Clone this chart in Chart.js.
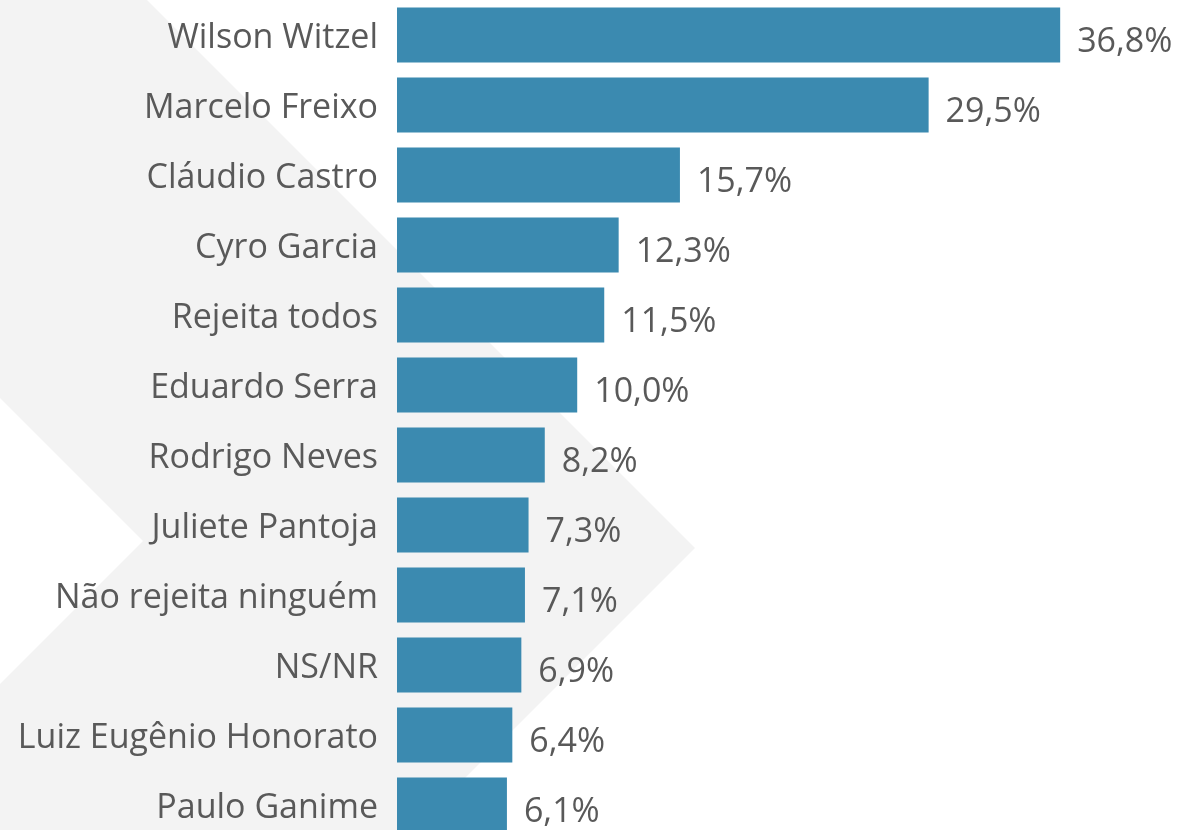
<!DOCTYPE html>
<html>
<head>
<meta charset="utf-8">
<script src="https://cdn.jsdelivr.net/npm/chart.js@4/dist/chart.umd.min.js"></script>
<style>
  html, body { margin: 0; padding: 0; background: #ffffff; overflow: hidden; }
  #wrap { position: relative; width: 1182px; height: 840px; }
</style>
</head>
<body>
<div id="wrap"><canvas id="c"></canvas></div>
<script>
const categories = ["Wilson Witzel", "Marcelo Freixo", "Cláudio Castro", "Cyro Garcia", "Rejeita todos", "Eduardo Serra", "Rodrigo Neves", "Juliete Pantoja", "Não rejeita ninguém", "NS/NR", "Luiz Eugênio Honorato", "Paulo Ganime"];
const values = [36.8, 29.5, 15.7, 12.3, 11.5, 10.0, 8.2, 7.3, 7.1, 6.9, 6.4, 6.1];
const valueLabels = ["36,8%", "29,5%", "15,7%", "12,3%", "11,5%", "10,0%", "8,2%", "7,3%", "7,1%", "6,9%", "6,4%", "6,1%"];

const FONT = "'Open Sans', 'Noto Sans', sans-serif";
const TEXT = '#595959';
const BAR = '#3b8ab0';

const chevron = {
  id: 'chevron',
  beforeDraw(chart) {
    const ctx = chart.ctx;
    ctx.save();
    ctx.fillStyle = '#ffffff';
    ctx.fillRect(0, 0, chart.width, chart.height);
    ctx.fillStyle = '#f3f3f3';
    ctx.beginPath();
    ctx.moveTo(0, 0);
    ctx.lineTo(147, 0);
    ctx.lineTo(695, 548);
    ctx.lineTo(403, 840);
    ctx.lineTo(0, 840);
    ctx.lineTo(0, 684);
    ctx.lineTo(143, 541);
    ctx.lineTo(0, 398);
    ctx.closePath();
    ctx.fill();
    ctx.restore();
  }
};

const valueLabelPlugin = {
  id: 'valueLabels',
  afterDatasetsDraw(chart) {
    const ctx = chart.ctx;
    const meta = chart.getDatasetMeta(0);
    ctx.save();
    ctx.font = "34px " + FONT;
    ctx.fillStyle = TEXT;
    ctx.textAlign = 'left';
    ctx.textBaseline = 'middle';
    meta.data.forEach((bar, i) => {
      ctx.fillText(valueLabels[i], bar.x + 17, bar.y + 7);
    });
    ctx.restore();
  }
};

new Chart(document.getElementById('c'), {
  type: 'bar',
  data: {
    labels: categories,
    datasets: [{
      data: values,
      backgroundColor: BAR,
      borderWidth: 0,
      categoryPercentage: 1,
      barPercentage: 0.786
    }]
  },
  options: {
    indexAxis: 'y',
    responsive: true,
    maintainAspectRatio: false,
    animation: false,
    layout: { padding: 0 },
    plugins: { legend: { display: false }, tooltip: { enabled: false } },
    scales: {
      x: {
        display: false,
        min: 0,
        max: 43.56
      },
      y: {
        grid: { display: false, drawTicks: false },
        border: { display: false },
        ticks: {
          color: TEXT,
          font: { family: FONT, size: 34 },
          padding: 19,
          labelOffset: 3
        },
        afterFit(scale) {
          scale.width = 397;
          scale.paddingTop = 0;
          scale.paddingBottom = 0;
        }
      }
    }
  },
  plugins: [chevron, valueLabelPlugin]
});
</script>
</body>
</html>
